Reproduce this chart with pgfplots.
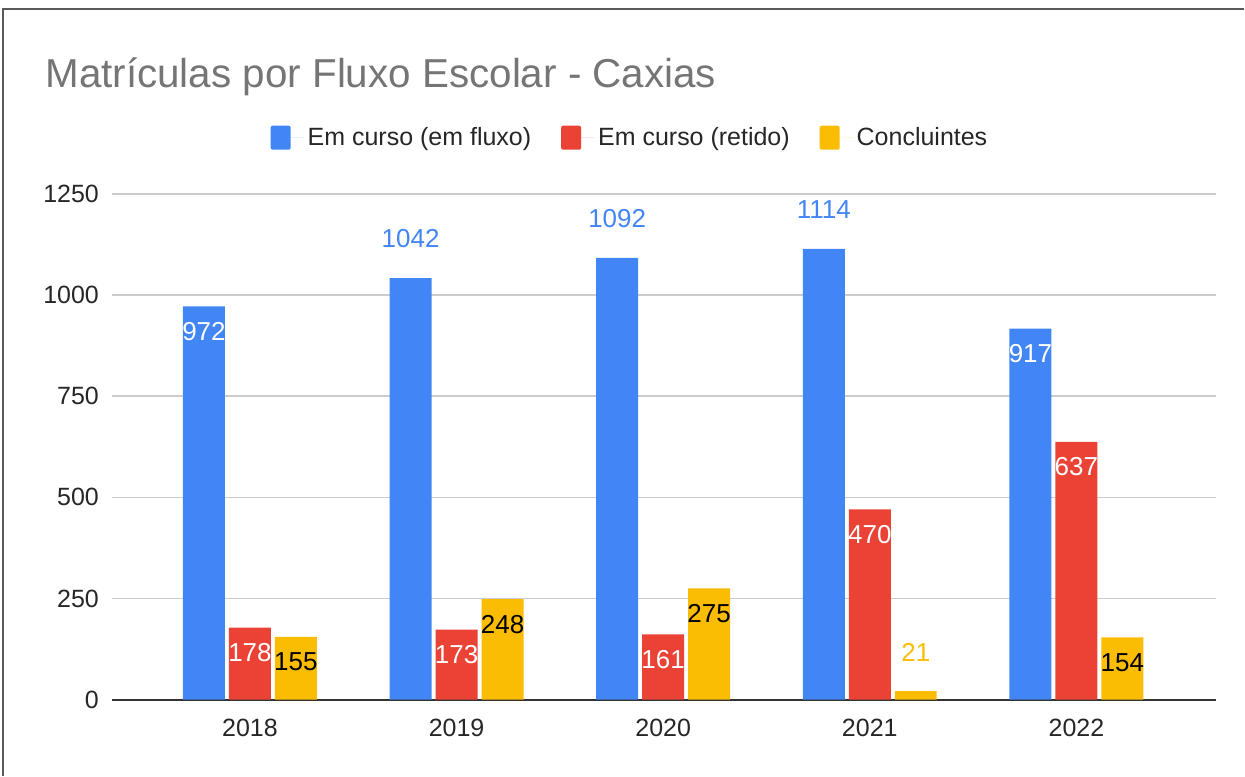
\documentclass[border=0pt]{standalone}
\usepackage{pgfplots}
\pgfplotsset{compat=1.18}
\usepackage{fontspec}
\setmainfont{Liberation Sans}
\definecolor{cblue}{HTML}{4285F4}
\definecolor{cred}{HTML}{EA4335}
\definecolor{cyellow}{HTML}{FBBC04}
\definecolor{ctitle}{HTML}{757575}
\definecolor{cgrid}{HTML}{CCCCCC}
\newcommand{\lbl}{\fontsize{13pt}{15pt}\selectfont}
\newcommand{\tck}{\fontsize{12.5pt}{15pt}\selectfont}
\begin{document}
\begin{tikzpicture}
\begin{axis}[
  at={(0,0)}, anchor=south west,
  width=552.5pt, height=253pt, scale only axis,
  xmin=-0.668, xmax=4.677, ymin=0, ymax=1250,
  xtick={0,...,4}, xticklabels={2018,2019,2020,2021,2022},
  ytick={0,250,...,1250},
  axis x line=bottom, axis y line=left,
  x axis line style={-, draw=black!80, line width=1pt},
  y axis line style={draw=none},
  major tick length=0pt,
  ymajorgrids, grid style={cgrid, line width=0.75pt},
  /pgf/number format/assume math mode=true,
  /pgf/number format/1000 sep={},
  tick label style={font=\tck, text=black!85},
  yticklabel style={xshift=-3pt},
  xticklabel style={yshift=-6pt},
  legend style={at={(0.47,1.111)}, anchor=center, draw=none, fill=none,
    legend columns=-1, font=\tck, text=black!85,
    /tikz/every even column/.append style={column sep=13pt}},
  legend image code/.code={\fill[#1, draw=none, rounded corners=1pt] (0pt,-6pt) rectangle (10pt,6pt);
    \path (0pt,0pt) -- (16.5pt,0pt);},
]
% bars
\addplot[ybar, bar width=21pt, bar shift=-23pt, fill=cblue, draw=none]
  coordinates {(0,972) (1,1042) (2,1092) (3,1114) (4,917)};
\addlegendentry{Em curso (em fluxo)}
\addplot[ybar, bar width=21pt, bar shift=0pt, fill=cred, draw=none]
  coordinates {(0,178) (1,173) (2,161) (3,470) (4,637)};
\addlegendentry{Em curso (retido)}
\addplot[ybar, bar width=21pt, bar shift=23pt, fill=cyellow, draw=none]
  coordinates {(0,155) (1,248) (2,275) (3,21) (4,154)};
\addlegendentry{Concluintes}
% value labels
\addplot[forget plot, draw=none, nodes near coords,
  every node near coord/.style={anchor=center, xshift=-23pt, yshift=-12.5pt, text=white, font=\lbl}]
  coordinates {(0,972) (4,917)};
\addplot[forget plot, draw=none, nodes near coords,
  every node near coord/.style={anchor=center, xshift=-23pt, yshift=19.5pt, text=cblue, font=\lbl}]
  coordinates {(1,1042) (2,1092) (3,1114)};
\addplot[forget plot, draw=none, nodes near coords,
  every node near coord/.style={anchor=center, yshift=-12.5pt, text=white, font=\lbl}]
  coordinates {(0,178) (1,173) (2,161) (3,470) (4,637)};
\addplot[forget plot, draw=none, nodes near coords,
  every node near coord/.style={anchor=center, xshift=23pt, yshift=-12.5pt, text=black, font=\lbl}]
  coordinates {(0,155) (1,248) (2,275) (4,154)};
\addplot[forget plot, draw=none, nodes near coords,
  every node near coord/.style={anchor=center, xshift=23pt, yshift=19.5pt, text=cyellow, font=\lbl}]
  coordinates {(3,21)};
\end{axis}
\node[anchor=base west, inner sep=0pt, text=ctitle, font=\fontsize{20.2pt}{24pt}\selectfont]
  at (-33.5pt,306pt) {Matrículas por Fluxo Escolar - Caxias};
\draw[black!65, line width=0.75pt] (-54.5pt,-38pt) -- (-54.5pt,345.5pt) -- (566.5pt,345.5pt);
\path[use as bounding box] (-56pt,-38pt) rectangle (566.5pt,350pt);
\end{tikzpicture}
\end{document}
